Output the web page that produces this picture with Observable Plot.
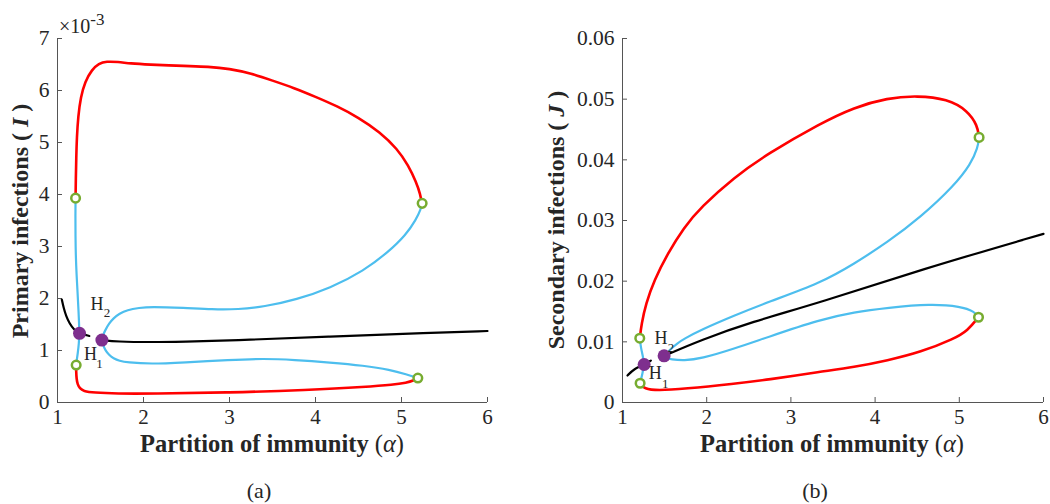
<!DOCTYPE html>
<html><head><meta charset="utf-8">
<script src="https://cdn.jsdelivr.net/npm/d3@7"></script>
<script src="https://cdn.jsdelivr.net/npm/@observablehq/plot@0.6"></script>
<style>
body{margin:0;background:#fff;}
#wrap{position:relative;width:1050px;height:504px;overflow:hidden;font-family:"Liberation Serif","Times New Roman",serif;color:#262626;background:#fff;}
.panel{position:absolute;top:0;}
.lbl{position:absolute;white-space:nowrap;transform:translate(-50%,-50%);line-height:1;}
.xt{font-weight:bold;font-size:24.5px;line-height:0.7;}
.yt{font-weight:bold;font-size:24px;line-height:0.7;transform:translate(-50%,-50%) rotate(-90deg);}
.cap{font-size:22px;}
.exp{position:absolute;white-space:nowrap;line-height:1;font-size:20px;}
</style></head>
<body><div id="wrap"></div>
<script>
// ---------- shared ----------
const xTicks = [1, 2, 3, 4, 5, 6];

// ---------- panel (a): Primary infections I (values in units of 1e-3) ----------
const yTicksA = [0, 1, 2, 3, 4, 5, 6, 7];
const aRedUpperX = [1.21, 1.213, 1.218, 1.225, 1.24, 1.27, 1.32, 1.40, 1.48, 1.57, 1.7, 1.85, 2.04, 2.5, 2.75, 3.0, 3.25, 3.5, 3.75, 4.0, 4.25, 4.5, 4.75, 4.95, 5.08, 5.17, 5.22, 5.235];
const aRedUpperY = [3.93, 4.3, 4.7, 5.1, 5.5, 5.87, 6.17, 6.40, 6.52, 6.56, 6.55, 6.52, 6.50, 6.47, 6.46, 6.42, 6.33, 6.19, 6.05, 5.88, 5.70, 5.48, 5.20, 4.88, 4.56, 4.24, 4.0, 3.83];
const aBlueLeftX = [1.21, 1.208, 1.209, 1.213, 1.222, 1.232, 1.245, 1.256, 1.248, 1.236, 1.224, 1.217];
const aBlueLeftY = [3.93, 3.6, 3.2, 2.80, 2.45, 2.16, 1.75, 1.33, 1.12, 0.95, 0.82, 0.72];
const aBlackLeftX = [1.05, 1.07, 1.10, 1.14, 1.19, 1.256, 1.37];
const aBlackLeftY = [1.98, 1.83, 1.66, 1.52, 1.40, 1.33, 1.28];
const aBlackRightX = [1.516, 1.69, 2.08, 2.47, 3.0, 4.17, 5.33, 6.0];
const aBlackRightY = [1.20, 1.17, 1.16, 1.17, 1.19, 1.27, 1.34, 1.375];
const aBlueUpX = [1.516, 1.53, 1.555, 1.60, 1.65, 1.72, 1.81, 1.95, 2.08, 2.47, 2.8, 3.1, 3.4, 3.78, 4.17, 4.56, 4.85, 5.05, 5.17, 5.225, 5.24];
const aBlueUpY = [1.20, 1.30, 1.39, 1.52, 1.62, 1.71, 1.78, 1.82, 1.84, 1.82, 1.79, 1.79, 1.84, 1.98, 2.2, 2.53, 2.9, 3.22, 3.52, 3.72, 3.83];
const aBlueLowX = [1.516, 1.53, 1.555, 1.60, 1.65, 1.72, 1.81, 2.08, 2.47, 3.0, 3.4, 3.75, 4.17, 4.56, 4.87, 5.06, 5.19];
const aBlueLowY = [1.20, 1.10, 1.01, 0.91, 0.85, 0.80, 0.77, 0.74, 0.77, 0.82, 0.845, 0.82, 0.77, 0.71, 0.63, 0.54, 0.47];
const aRedLowX = [1.217, 1.217, 1.222, 1.233, 1.26, 1.30, 1.42, 1.69, 2.08, 3.0, 3.9, 4.6, 4.9, 5.06, 5.14, 5.19];
const aRedLowY = [0.72, 0.59, 0.45, 0.35, 0.27, 0.22, 0.19, 0.17, 0.17, 0.19, 0.24, 0.30, 0.34, 0.38, 0.42, 0.47];
const aLimitX = [1.21, 5.24, 1.217, 5.19];
const aLimitY = [3.93, 3.83, 0.72, 0.47];
const aHopfX = [1.256, 1.516];
const aHopfY = [1.33, 1.20];

// ---------- panel (b): Secondary infections J ----------
const yTicksB = [0, 0.01, 0.02, 0.03, 0.04, 0.05, 0.06];
const yTickLabelsB = ["0", "0.01", "0.02", "0.03", "0.04", "0.05", "0.06"];
const bRedUpperX = [1.205, 1.226, 1.277, 1.375, 1.534, 1.73, 1.93, 2.325, 2.72, 3.355, 3.75, 4.147, 4.50, 4.86, 5.10, 5.216, 5.235];
const bRedUpperY = [0.0106, 0.01296, 0.01626, 0.0201, 0.0245, 0.02888, 0.03218, 0.03712, 0.04097, 0.04605, 0.04865, 0.0502, 0.05058, 0.05003, 0.04811, 0.04563, 0.0437];
const bBlueUpX = [1.494, 1.53, 1.574, 1.65, 1.73, 1.93, 2.325, 2.72, 3.355, 3.75, 4.147, 4.54, 4.94, 5.137, 5.22, 5.235];
const bBlueUpY = [0.00769, 0.0082, 0.00885, 0.00975, 0.01049, 0.01197, 0.01433, 0.01652, 0.0197, 0.02285, 0.02641, 0.03053, 0.03575, 0.03932, 0.0420, 0.0437];
const bBlueLowX = [1.494, 1.52, 1.574, 1.73, 1.93, 2.325, 2.72, 3.355, 3.75, 4.147, 4.66, 5.02, 5.18, 5.228];
const bBlueLowY = [0.00769, 0.0073, 0.0071, 0.00692, 0.0072, 0.00885, 0.01076, 0.0137, 0.01488, 0.0156, 0.01626, 0.01582, 0.0150, 0.01406];
const bBlueLeftX = [1.205, 1.217, 1.245, 1.257, 1.237, 1.209];
const bBlueLeftY = [0.0106, 0.00911, 0.00747, 0.00626, 0.00473, 0.00318];
const bBlackLeftX = [1.059, 1.138, 1.257, 1.337];
const bBlackLeftY = [0.00445, 0.00555, 0.00626, 0.0069];
const bBlackRightX = [1.494, 1.93, 2.52, 3.355, 4.54, 6.0];
const bBlackRightY = [0.00769, 0.0103, 0.01323, 0.0165, 0.0219, 0.0278];
const bRedLowX = [1.209, 1.257, 1.416, 1.73, 2.325, 2.72, 3.355, 3.75, 4.147, 4.54, 4.94, 5.10, 5.228];
const bRedLowY = [0.00318, 0.00225, 0.00198, 0.00225, 0.00308, 0.00374, 0.00508, 0.00582, 0.00692, 0.00829, 0.0105, 0.01186, 0.01406];
const bLimitX = [1.205, 1.209, 5.235, 5.228];
const bLimitY = [0.0106, 0.00318, 0.0437, 0.01406];
const bHopfX = [1.257, 1.494];
const bHopfY = [0.00626, 0.00769];

const hopfSub = ["1", "2"];

const RED = "#ff0000", BLUE = "#4dbeee", BLACK = "#000000", GREEN = "#77ac30", PURPLE = "#7e2f8e", AXIS = "#555555";

function buildPanel(cfg) {
  const {width, height, ml, mr, mt, mb, yDomain, yTicks, yFmt, curves, limX, limY, hopfX, hopfY, hOff, sOff} = cfg;
  const W = width - ml - mr, H = height - mt - mb;
  const marks = [
    Plot.ruleX([xTicks[0]], {stroke: AXIS, strokeWidth: 1}),
    Plot.ruleY([yTicks[0]], {stroke: AXIS, strokeWidth: 1}),
    Plot.tickX(xTicks, {x: d => d, insetTop: H - 5, stroke: AXIS}),
    Plot.tickY(yTicks, {y: d => d, insetRight: W - 5, stroke: AXIS}),
    Plot.axisX({ticks: xTicks, tickSize: 0, tickPadding: 7, label: null, fontSize: 21, tickFormat: d => String(d), fill: "#262626"}),
    Plot.axisY({ticks: yTicks, tickSize: 0, tickPadding: 8, label: null, fontSize: 21.5, tickFormat: yFmt, fill: "#262626"})
  ];
  for (const c of curves) {
    marks.push(Plot.line(d3.zip(c.x, c.y), {x: d => d[0], y: d => d[1], stroke: c.color, strokeWidth: c.w, curve: "basis"}));
  }
  const lim = d3.zip(limX, limY);
  marks.push(Plot.dot(lim, {x: d => d[0], y: d => d[1], r: 4.3, stroke: GREEN, strokeWidth: 2.5, fill: "white"}));
  const hop = d3.zip(hopfX, hopfY);
  marks.push(Plot.dot(hop, {x: d => d[0], y: d => d[1], r: 6.5, fill: PURPLE}));
  hop.forEach((p, i) => {
    marks.push(Plot.text([p], {x: d => d[0], y: d => d[1], text: () => "H", dx: hOff[i][0], dy: hOff[i][1], fontSize: 18, fill: "#262626"}));
    marks.push(Plot.text([p], {x: d => d[0], y: d => d[1], text: () => hopfSub[i], dx: sOff[i][0], dy: sOff[i][1], fontSize: 13, fill: "#262626"}));
  });
  return Plot.plot({
    width, height, marginLeft: ml, marginRight: mr, marginTop: mt, marginBottom: mb,
    x: {domain: [1, 6]},
    y: {domain: yDomain},
    style: {fontFamily: '"Liberation Serif", "Times New Roman", serif', background: "transparent", overflow: "visible"},
    marks
  });
}

const wrap = document.getElementById("wrap");

const plotA = buildPanel({
  width: 525, height: 504, ml: 57, mr: 38, mt: 38, mb: 102,
  yDomain: [0, 7], yTicks: yTicksA, yFmt: d => String(d),
  curves: [
    {x: aRedUpperX, y: aRedUpperY, color: RED, w: 2.6},
    {x: aRedLowX, y: aRedLowY, color: RED, w: 2.6},
    {x: aBlueLeftX, y: aBlueLeftY, color: BLUE, w: 2.2},
    {x: aBlueUpX, y: aBlueUpY, color: BLUE, w: 2.2},
    {x: aBlueLowX, y: aBlueLowY, color: BLUE, w: 2.2},
    {x: aBlackLeftX, y: aBlackLeftY, color: BLACK, w: 2.2},
    {x: aBlackRightX, y: aBlackRightY, color: BLACK, w: 2.2}
  ],
  limX: aLimitX, limY: aLimitY, hopfX: aHopfX, hopfY: aHopfY,
  hOff: [[11, 21], [-5, -36]], sOff: [[20, 30], [5, -27]]
});
const plotB = buildPanel({
  width: 525, height: 504, ml: 97, mr: 7, mt: 38, mb: 102,
  yDomain: [0, 0.06], yTicks: yTicksB, yFmt: (d, i) => yTickLabelsB[i],
  curves: [
    {x: bRedUpperX, y: bRedUpperY, color: RED, w: 2.6},
    {x: bRedLowX, y: bRedLowY, color: RED, w: 2.6},
    {x: bBlueLeftX, y: bBlueLeftY, color: BLUE, w: 2.2},
    {x: bBlueUpX, y: bBlueUpY, color: BLUE, w: 2.2},
    {x: bBlueLowX, y: bBlueLowY, color: BLUE, w: 2.2},
    {x: bBlackLeftX, y: bBlackLeftY, color: BLACK, w: 2.2},
    {x: bBlackRightX, y: bBlackRightY, color: BLACK, w: 2.2}
  ],
  limX: bLimitX, limY: bLimitY, hopfX: bHopfX, hopfY: bHopfY,
  hOff: [[11, 9], [-3, -18]], sOff: [[21, 19], [7, -8]]
});

function place(el, left) {
  const d = document.createElement("div");
  d.className = "panel";
  d.style.left = left + "px";
  d.appendChild(el);
  wrap.appendChild(d);
}
place(plotA, 0);
place(plotB, 525);

function label(html, x, y, cls) {
  const d = document.createElement("div");
  d.className = cls;
  d.style.left = x + "px";
  d.style.top = y + "px";
  d.innerHTML = html;
  wrap.appendChild(d);
  return d;
}
label('Partition of immunity <span style="font-weight:normal">(<i>α</i>)</span>', 272, 443.5, "lbl xt");
label('Partition of immunity <span style="font-weight:normal">(<i>α</i>)</span>', 832, 443.5, "lbl xt");
label('Primary infections ( <i>I</i> )', 20, 221, "lbl yt");
label('Secondary infections ( <i>J</i> )', 556, 220, "lbl yt");
label('(a)', 259, 491, "lbl cap");
label('(b)', 815, 491, "lbl cap");
label('×10<span style="font-size:17px;position:relative;top:-8px;">-3</span>', 59, 16, "exp");
</script>
</body></html>
